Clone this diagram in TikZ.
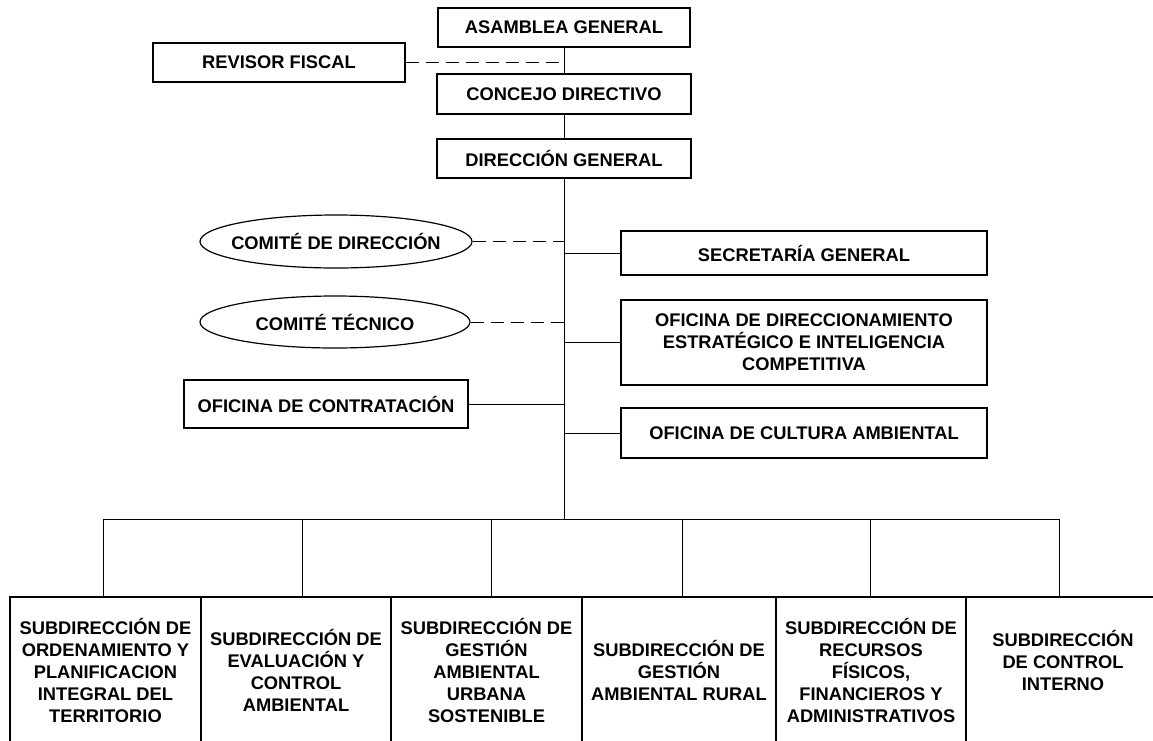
\documentclass[tikz,border=0pt]{standalone}
\usepackage{fontspec}
\setmainfont{Liberation Sans}
\usetikzlibrary{shapes.geometric}
\begin{document}
\begin{tikzpicture}[x=1pt,y=-1pt,
    box/.style={draw, line width=1.2pt, align=center, inner sep=2pt,
      font=\bfseries\fontsize{18.3}{22}\selectfont},
    oval/.style={box, ellipse, inner xsep=-35pt},
    link/.style={line width=1pt},
    dashlink/.style={line width=1pt, dash pattern=on 13pt off 7pt}]
            \useasboundingbox (0,0) rectangle (1153,740);
            \clip (0,0) rectangle (1153,740);
            \def \spine {564}
            \def \busy {519}
            \node[box, minimum width=252pt, minimum height=39pt] (ag) at (\spine,27.5) {ASAMBLEA GENERAL};
            \node[box, minimum width=252pt, minimum height=39pt] (rf) at (279,62.5) {REVISOR FISCAL};
            \node[box, minimum width=254pt, minimum height=40pt] (cd) at (\spine,94) {CONCEJO DIRECTIVO};
            \node[box, minimum width=254pt, minimum height=39pt] (dg) at (\spine,158.5) {DIRECCIÓN GENERAL};
            \node[oval, minimum width=272pt, minimum height=53pt] (cdir) at (336,241.5) {COMITÉ DE DIRECCIÓN};
            \node[oval, minimum width=270pt, minimum height=52pt] (ctec) at (335,322) {COMITÉ TÉCNICO};
            \node[box, minimum width=284pt, minimum height=48pt] (ocon) at (326,404) {OFICINA DE CONTRATACIÓN};
            \node[box, minimum width=366pt, minimum height=44pt] (sg) at (804,253) {SECRETARÍA GENERAL};
            \node[box, minimum width=366pt, minimum height=85pt] (ode) at (804,342.5) {OFICINA DE DIRECCIONAMIENTO\\ ESTRATÉGICO E INTELIGENCIA\\ COMPETITIVA};
            \node[box, minimum width=366pt, minimum height=50pt] (ocul) at (804,433) {OFICINA DE CULTURA AMBIENTAL};
            \coordinate (bus) at (\spine,\busy);
            \foreach \i/\x/\w/\d/\s/\t in {1/105.5/191/-2.5/0/{SUBDIRECCIÓN DE\\ORDENAMIENTO Y\\PLANIFICACION\\INTEGRAL DEL\\TERRITORIO},
                                      2/296/190/6/0/{SUBDIRECCIÓN DE\\EVALUACIÓN Y\\CONTROL\\AMBIENTAL},
                                      3/486.5/191/4.5/0/{SUBDIRECCIÓN DE\\GESTIÓN\\AMBIENTAL\\URBANA\\SOSTENIBLE},
                                      4/679/194/3/0/{SUBDIRECCIÓN DE\\GESTIÓN\\AMBIENTAL RURAL},
                                      5/871/190/-1/0/{SUBDIRECCIÓN DE\\RECURSOS\\FÍSICOS,\\FINANCIEROS Y\\ADMINISTRATIVOS},
                                      6/1063/194/-4/-2/{SUBDIRECCIÓN\\DE CONTROL\\INTERNO\\[\s pt]}}
            {
              \node[box, minimum width=\w pt, minimum height=146pt] (b\i) at (\x,670) {\t};
              \draw[link] ([xshift=\d pt]b\i.north |- bus) -- ([xshift=\d pt]b\i.north);
            }
            \draw[link] (ag.south) -- (cd.north);
            \draw[link] (cd.south) -- (dg.north);
            \draw[link] (dg.south) -- (bus);
            \draw[link] ([xshift=-2.5pt]b1.north |- bus) -- ([xshift=-4pt]b6.north |- bus);
            \draw[dashlink] (rf.east) -- (rf.east -| ag.south);
            \draw[dashlink] (cdir.east) -- (cdir.east -| ag.south);
            \draw[dashlink] (ctec.east) -- (ctec.east -| ag.south);
            \draw[link] (ocon.east) -- (ocon.east -| ag.south);
            \foreach \n in {sg,ode,ocul}
              \draw[link] (\n.west) -- (\n.west -| ag.south);
            \end{tikzpicture}
\end{document}
